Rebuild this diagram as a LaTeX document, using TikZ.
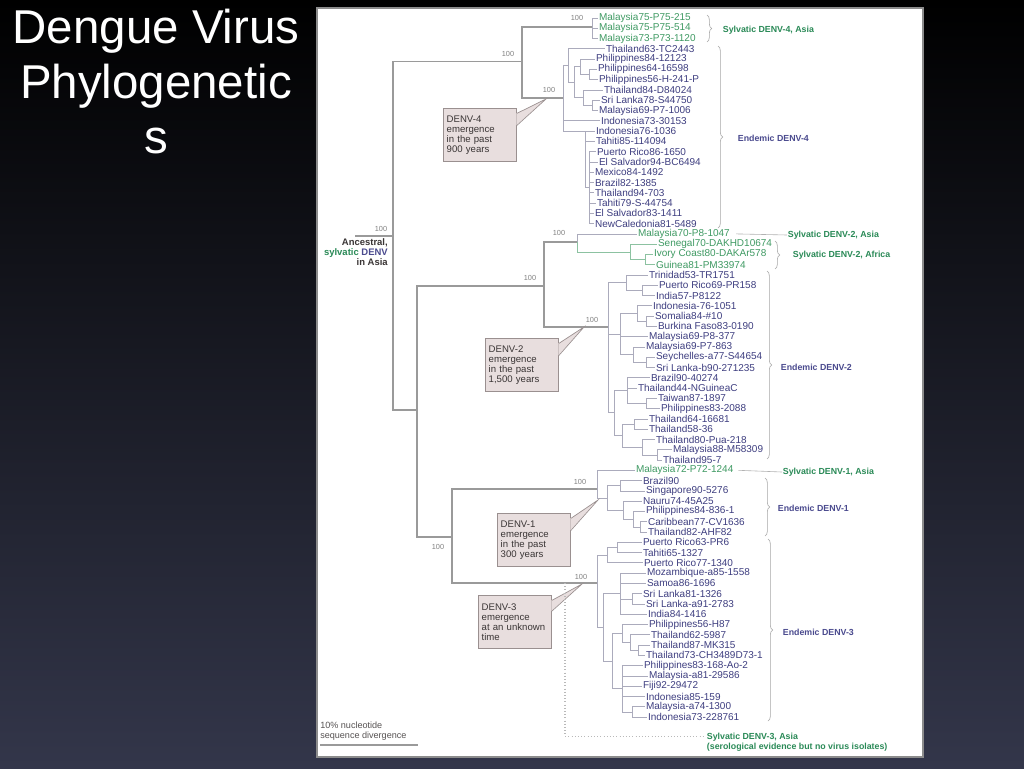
\documentclass[tikz,border=0pt]{standalone}
\usepackage{fontspec}
\setmainfont{Liberation Sans}
\usetikzlibrary{positioning, calc, decorations.pathreplacing}
\definecolor{slidetop}{HTML}{000000}
\definecolor{slidebot}{HTML}{33364A}
\definecolor{panelrim}{HTML}{8C8C8C}
\definecolor{branchgray}{HTML}{ABABBC}
\definecolor{stemgray}{HTML}{9A9A9A}
\definecolor{endleaf}{HTML}{3E3E80}
\definecolor{sylleaf}{HTML}{3F9A63}
\definecolor{sylgreen}{HTML}{2A8A57}
\definecolor{endblue}{HTML}{4A4A8E}
\definecolor{boxfill}{HTML}{E8DEDE}
\definecolor{boxrim}{HTML}{9A9090}
\definecolor{inktext}{HTML}{3A3535}

\begin{document}
\begin{tikzpicture}[x=0.75pt, y=-0.75pt,
  leaf/.style={anchor=west, inner sep=0.6pt, font=\fontsize{7.5}{8}\selectfont, text=endleaf},
  sleaf/.style={leaf, text=sylleaf},
  br/.style={branchgray, line width=0.6pt},
  sbr/.style={sylleaf!60, line width=0.6pt},
  stem/.style={stemgray, line width=1.1pt},
  boot/.style={font=\fontsize{5.5}{6}\selectfont, text=gray, inner sep=0pt},
  callout/.style={anchor=north west, fill=boxfill, draw=boxrim, line width=0.5pt,
                  text width=50pt, minimum height=40pt, inner xsep=2.5pt, inner ysep=2pt,
                  align=left, font=\fontsize{7.2}{7.6}\selectfont, text=inktext},
  grp/.style={anchor=west, inner sep=0.5pt, font=\bfseries\fontsize{6.6}{7.6}\selectfont, text=#1},
  brc/.style={draw=gray!70, line width=0.45pt, decorate, decoration={brace, amplitude=3.5pt}},
  tick/.style={gray!60, line width=0.45pt}
]
\useasboundingbox (0,0) rectangle (1024,768);

% Slide background and white panel
\shade[top color=slidetop, bottom color=slidebot] (0,0) rectangle (1024,768);
\draw[panelrim, fill=white, line width=1.5pt] (317,8) rectangle (923,757);

% Title
\node[font=\fontsize{35.6}{41.3}\selectfont, text=white, align=center, anchor=north, inner sep=0pt]
  (title) at (156,9) {Dengue Virus\\Phylogenetic\\s};

% Leaves: DENV-4
\node[sleaf] (l1) at (598,18) {Malaysia75-P75-215};
\node[sleaf] (l2) at (598,28.3) {Malaysia75-P75-514};
\node[sleaf] (l3) at (598,38.6) {Malaysia73-P73-1120};
\node[leaf] (l4) at (605,48.8) {Thailand63-TC2443};
\node[leaf] (l5) at (595,59.1) {Philippines84-12123};
\node[leaf] (l6) at (597,69.4) {Philippines64-16598};
\node[leaf] (l7) at (598,79.7) {Philippines56-H-241-P};
\node[leaf] (l8) at (603,90.0) {Thailand84-D84024};
\node[leaf] (l9) at (600,100.2) {Sri Lanka78-S44750};
\node[leaf] (l10) at (598,110.5) {Malaysia69-P7-1006};
\node[leaf] (l11) at (600,120.8) {Indonesia73-30153};
\node[leaf] (l12) at (595,131.1) {Indonesia76-1036};
\node[leaf] (l13) at (595,141.4) {Tahiti85-114094};
\node[leaf] (l14) at (596,151.6) {Puerto Rico86-1650};
\node[leaf] (l15) at (598,161.9) {El Salvador94-BC6494};
\node[leaf] (l16) at (594,172.2) {Mexico84-1492};
\node[leaf] (l17) at (594,182.5) {Brazil82-1385};
\node[leaf] (l18) at (594,192.8) {Thailand94-703};
\node[leaf] (l19) at (596,203.0) {Tahiti79-S-44754};
\node[leaf] (l20) at (594,213.3) {El Salvador83-1411};
\node[leaf] (l21) at (594,223.6) {NewCaledonia81-5489};

% Leaves: DENV-2
\node[sleaf] (l22) at (637,233.9) {Malaysia70-P8-1047};
\node[sleaf] (l23) at (657,244.2) {Senegal70-DAKHD10674};
\node[sleaf] (l24) at (653,254.4) {Ivory Coast80-DAKAr578};
\node[sleaf] (l25) at (655,264.7) {Guinea81-PM33974};
\node[leaf] (l26) at (648,275.0) {Trinidad53-TR1751};
\node[leaf] (l27) at (658,285.3) {Puerto Rico69-PR158};
\node[leaf] (l28) at (655,295.6) {India57-P8122};
\node[leaf] (l29) at (652,305.8) {Indonesia-76-1051};
\node[leaf] (l30) at (654,316.1) {Somalia84-\#10};
\node[leaf] (l31) at (657,326.4) {Burkina Faso83-0190};
\node[leaf] (l32) at (648,336.7) {Malaysia69-P8-377};
\node[leaf] (l33) at (645,347.0) {Malaysia69-P7-863};
\node[leaf] (l34) at (655,357.2) {Seychelles-a77-S44654};
\node[leaf] (l35) at (655,367.5) {Sri Lanka-b90-271235};
\node[leaf] (l36) at (650,377.8) {Brazil90-40274};
\node[leaf] (l37) at (637,388.1) {Thailand44-NGuineaC};
\node[leaf] (l38) at (657,398.4) {Taiwan87-1897};
\node[leaf] (l39) at (660,408.6) {Philippines83-2088};
\node[leaf] (l40) at (648,418.9) {Thailand64-16681};
\node[leaf] (l41) at (648,429.2) {Thailand58-36};
\node[leaf] (l42) at (655,439.5) {Thailand80-Pua-218};
\node[leaf] (l43) at (672,449.8) {Malaysia88-M58309};
\node[leaf] (l44) at (662,460.0) {Thailand95-7};

% Leaves: DENV-1
\node[sleaf] (l45) at (635,470.3) {Malaysia72-P72-1244};
\node[leaf] (l46) at (642,480.6) {Brazil90};
\node[leaf] (l47) at (645,490.9) {Singapore90-5276};
\node[leaf] (l48) at (642,501.2) {Nauru74-45A25};
\node[leaf] (l49) at (645,511.4) {Philippines84-836-1};
\node[leaf] (l50) at (647,521.7) {Caribbean77-CV1636};
\node[leaf] (l51) at (647,532.0) {Thailand82-AHF82};

% Leaves: DENV-3
\node[leaf] (l52) at (642,542.3) {Puerto Rico63-PR6};
\node[leaf] (l53) at (642,552.6) {Tahiti65-1327};
\node[leaf] (l54) at (643,562.8) {Puerto Rico77-1340};
\node[leaf] (l55) at (646,573.1) {Mozambique-a85-1558};
\node[leaf] (l56) at (646,583.4) {Samoa86-1696};
\node[leaf] (l57) at (642,593.7) {Sri Lanka81-1326};
\node[leaf] (l58) at (645,604.0) {Sri Lanka-a91-2783};
\node[leaf] (l59) at (647,614.2) {India84-1416};
\node[leaf] (l60) at (648,624.5) {Philippines56-H87};
\node[leaf] (l61) at (650,634.8) {Thailand62-5987};
\node[leaf] (l62) at (650,645.1) {Thailand87-MK315};
\node[leaf] (l63) at (645,655.4) {Thailand73-CH3489D73-1};
\node[leaf] (l64) at (643,665.6) {Philippines83-168-Ao-2};
\node[leaf] (l65) at (648,675.9) {Malaysia-a81-29586};
\node[leaf] (l66) at (642,686.2) {Fiji92-29472};
\node[leaf] (l67) at (645,696.5) {Indonesia85-159};
\node[leaf] (l68) at (645,706.8) {Malaysia-a74-1300};
\node[leaf] (l69) at (647,717.0) {Indonesia73-228761};

% Internal nodes
\coordinate (root) at (355,236);
\coordinate (a0) at (393,236);
\coordinate (d4) at (522,61.5);
\coordinate (s4) at (592,27);
\coordinate (e4) at (563,98);
\coordinate (e4a) at (568,65.5);
\coordinate (e4a1) at (574,82.3);
\coordinate (ph) at (580,66.8);
\coordinate (ph1) at (589,74.6);
\coordinate (sl) at (583,97.7);
\coordinate (sl1) at (592,105.4);
\coordinate (e4b) at (585,131);
\coordinate (e4b1) at (589,187.6);
\coordinate (b) at (417,410);
\coordinate (d2) at (544,286);
\coordinate (s2) at (577,242);
\coordinate (af) at (630,251.9);
\coordinate (af1) at (645,259.6);
\coordinate (e2) at (608,327);
\coordinate (c2a) at (626,282.7);
\coordinate (c2a1) at (642,290.5);
\coordinate (c2b) at (620,334);
\coordinate (c2b1) at (637,313.5);
\coordinate (c2b2) at (646,321.3);
\coordinate (c2b3) at (633,354.7);
\coordinate (c2b4) at (646,362.4);
\coordinate (c2c) at (614,412.8);
\coordinate (c2c1) at (627,390);
\coordinate (c2c1a) at (646,403.5);
\coordinate (c2c2) at (622,435.6);
\coordinate (c2c2a) at (634,424);
\coordinate (c2c2b) at (642,447.2);
\coordinate (c2c2b1) at (657,454.9);
\coordinate (d13) at (452,537);
\coordinate (d1) at (597,489);
\coordinate (e1) at (607,498);
\coordinate (e1a) at (620,485.8);
\coordinate (e1b) at (623,510.2);
\coordinate (e1b1) at (633,519.2);
\coordinate (e1b2) at (640,526.9);
\coordinate (d3) at (597,583);
\coordinate (s3) at (565,583);
\coordinate (g3a) at (607,555.2);
\coordinate (g3a1) at (617,547.5);
\coordinate (g3r) at (603,627);
\coordinate (g3b) at (620,593.7);
\coordinate (g3b1) at (632,598.9);
\coordinate (g3c) at (612,661);
\coordinate (g3c1) at (622,633.5);
\coordinate (g3c2) at (630,642.5);
\coordinate (g3c3) at (638,650.3);
\coordinate (g3c4) at (622,688.8);
\coordinate (g3c5) at (632,711.9);

% Backbone
\draw[stem] (root) -- (a0);
\draw[stem] (a0) |- (d4) (a0) |- (b);
\draw[stem] (d4) |- (s4) (d4) |- (e4);
\draw[stem] (b) |- (d2) (b) |- (d13);
\draw[stem] (d2) |- (s2) (d2) |- (e2);
\draw[stem] (d13) |- (d1) (d13) |- (d3);

% DENV-4 branches
\draw[br] (s4) |- (l1.west) (s4) |- (l2.west) (s4) |- (l3.west);
\draw[br] (e4) |- (e4a) (e4) |- (l11.west) (e4) |- (e4b);
\draw[br] (e4a) |- (l4.west) (e4a) |- (e4a1);
\draw[br] (e4a1) |- (ph) (e4a1) |- (sl);
\draw[br] (ph) |- (l5.west) (ph) |- (ph1);
\draw[br] (ph1) |- (l6.west) (ph1) |- (l7.west);
\draw[br] (sl) |- (l8.west) (sl) |- (sl1);
\draw[br] (sl1) |- (l9.west) (sl1) |- (l10.west);
\draw[br] (e4b) |- (l12.west) (e4b) |- (l13.west) (e4b) |- (e4b1);
\draw[br] (e4b1) |- (l14.west) (e4b1) |- (l15.west) (e4b1) |- (l16.west) (e4b1) |- (l17.west)
          (e4b1) |- (l18.west) (e4b1) |- (l19.west) (e4b1) |- (l20.west) (e4b1) |- (l21.west);

% DENV-2 branches
\draw[br] (s2) |- (l22.west);
\draw[sbr] (s2) |- (af);
\draw[sbr] (af) |- (l23.west) (af) |- (af1);
\draw[sbr] (af1) |- (l24.west) (af1) |- (l25.west);
\draw[br] (e2) |- (c2a) (e2) |- (c2b) (e2) |- (c2c);
\draw[br] (c2a) |- (l26.west) (c2a) |- (c2a1);
\draw[br] (c2a1) |- (l27.west) (c2a1) |- (l28.west);
\draw[br] (c2b) |- (c2b1) (c2b) |- (l32.west) (c2b) |- (c2b3);
\draw[br] (c2b1) |- (l29.west) (c2b1) |- (c2b2);
\draw[br] (c2b2) |- (l30.west) (c2b2) |- (l31.west);
\draw[br] (c2b3) |- (l33.west) (c2b3) |- (c2b4);
\draw[br] (c2b4) |- (l34.west) (c2b4) |- (l35.west);
\draw[br] (c2c) |- (c2c1) (c2c) |- (c2c2);
\draw[br] (c2c1) |- (l36.west) (c2c1) |- (l37.west) (c2c1) |- (c2c1a);
\draw[br] (c2c1a) |- (l38.west) (c2c1a) |- (l39.west);
\draw[br] (c2c2) |- (c2c2a) (c2c2) |- (c2c2b);
\draw[br] (c2c2a) |- (l40.west) (c2c2a) |- (l41.west);
\draw[br] (c2c2b) |- (l42.west) (c2c2b) |- (c2c2b1);
\draw[br] (c2c2b1) |- (l43.west) (c2c2b1) |- (l44.west);

% DENV-1 branches
\draw[br] (d1) |- (l45.west) (d1) |- (e1);
\draw[br] (e1) |- (e1a) (e1) |- (e1b);
\draw[br] (e1a) |- (l46.west) (e1a) |- (l47.west);
\draw[br] (e1b) |- (l48.west) (e1b) |- (e1b1);
\draw[br] (e1b1) |- (l49.west) (e1b1) |- (e1b2);
\draw[br] (e1b2) |- (l50.west) (e1b2) |- (l51.west);

% DENV-3 branches
\draw[br] (d3) |- (g3a) (d3) |- (g3r);
\draw[br] (g3a) |- (g3a1) (g3a) |- (l54.west);
\draw[br] (g3a1) |- (l52.west) (g3a1) |- (l53.west);
\draw[br] (g3r) |- (g3b) (g3r) |- (g3c);
\draw[br] (g3b) |- (l55.west) (g3b) |- (l56.west) (g3b) |- (g3b1) (g3b) |- (l59.west);
\draw[br] (g3b1) |- (l57.west) (g3b1) |- (l58.west);
\draw[br] (g3c) |- (g3c1) (g3c) |- (g3c4);
\draw[br] (g3c1) |- (l60.west) (g3c1) |- (g3c2);
\draw[br] (g3c2) |- (l61.west) (g3c2) |- (g3c3);
\draw[br] (g3c3) |- (l62.west) (g3c3) |- (l63.west);
\draw[br] (g3c4) |- (l64.west) (g3c4) |- (l65.west) (g3c4) |- (l66.west) (g3c4) |- (l67.west) (g3c4) |- (g3c5);
\draw[br] (g3c5) |- (l68.west) (g3c5) |- (l69.west);

% Bootstrap values
\node[boot] (bt0) at (381,229) {100};
\node[boot] (bt1) at (508,54) {100};
\node[boot] (bt2) at (549,90) {100};
\node[boot] (bt3) at (577,18) {100};
\node[boot] (bt4) at (559,233) {100};
\node[boot] (bt5) at (530,278) {100};
\node[boot] (bt6) at (592,320) {100};
\node[boot] (bt7) at (438,547) {100};
\node[boot] (bt8) at (580,482) {100};
\node[boot] (bt9) at (581,577) {100};

% Root label
\node[anchor=east, align=right, inner sep=0pt, font=\bfseries\fontsize{7.1}{7.6}\selectfont, text=inktext]
  (anc) at (388,252) {Ancestral,\\\textcolor{sylgreen}{sylvatic} \textcolor{endblue}{DENV}\\in Asia};

% Emergence callouts
\node[callout] (c4) at (443,108) {DENV-4\\emergence\\in the past\\900 years};
\node[callout] (c2) at (485,338) {DENV-2\\emergence\\in the past\\1,500 years};
\node[callout] (c1) at (497,513) {DENV-1\\emergence\\in the past\\300 years};
\node[callout] (c3) at (478,595) {DENV-3\\emergence\\at an unknown\\time};
\coordinate (t4) at (546,99);
\coordinate (t2) at (584,327);
\coordinate (t1) at (598,500);
\coordinate (t3) at (582,584);
\fill[boxfill] ([shift={(-0.5pt,-4pt)}]c4.north east) -- (t4) -- ([shift={(-0.5pt,-13pt)}]c4.north east) -- cycle;
\draw[boxrim, line width=0.5pt] ([yshift=-4pt]c4.north east) -- (t4) -- ([yshift=-13pt]c4.north east);
\fill[boxfill] ([shift={(-0.5pt,-4pt)}]c2.north east) -- (t2) -- ([shift={(-0.5pt,-13pt)}]c2.north east) -- cycle;
\draw[boxrim, line width=0.5pt] ([yshift=-4pt]c2.north east) -- (t2) -- ([yshift=-13pt]c2.north east);
\fill[boxfill] ([shift={(-0.5pt,-4pt)}]c1.north east) -- (t1) -- ([shift={(-0.5pt,-13pt)}]c1.north east) -- cycle;
\draw[boxrim, line width=0.5pt] ([yshift=-4pt]c1.north east) -- (t1) -- ([yshift=-13pt]c1.north east);
\fill[boxfill] ([shift={(-0.5pt,-4pt)}]c3.north east) -- (t3) -- ([shift={(-0.5pt,-12pt)}]c3.north east) -- cycle;
\draw[boxrim, line width=0.5pt] ([yshift=-4pt]c3.north east) -- (t3) -- ([yshift=-12pt]c3.north east);

% Group labels and braces
\node[grp=sylgreen] (lab4s) at (722,30) {Sylvatic DENV-4, Asia};
\node[grp=endblue] (lab4e) at (737,138) {Endemic DENV-4};
\node[grp=sylgreen] (lab2a) at (787,235) {Sylvatic DENV-2, Asia};
\node[grp=sylgreen] (lab2f) at (792,255) {Sylvatic DENV-2, Africa};
\node[grp=endblue] (lab2e) at (780,367) {Endemic DENV-2};
\node[grp=sylgreen] (lab1a) at (782,472) {Sylvatic DENV-1, Asia};
\node[grp=endblue] (lab1e) at (777,508) {Endemic DENV-1};
\node[grp=endblue] (lab3e) at (782,632) {Endemic DENV-3};
\node[grp=sylgreen, align=left] (lab3a) at (706,742) {Sylvatic DENV-3, Asia\\(serological evidence but no virus isolates)};
\draw[brc] (707,15) -- (707,42);
\draw[brc] (718,46) -- (718,228);
\draw[brc] (775,241) -- (775,269);
\draw[brc] (767,271) -- (767,459);
\draw[brc] (765,478) -- (765,536);
\draw[brc] (768,539) -- (768,721);
\draw[tick] ([xshift=4pt]l22.east) -- (lab2a.west);
\draw[tick] ([xshift=3pt]l45.east) -- (lab1a.west);
\draw[gray!55, line width=0.8pt, dash pattern=on 0.8pt off 1.6pt] (s3) |- ([shift={(-2pt,-3.4pt)}]lab3a.north west);

% Scale bar
\node[anchor=south west, align=left, inner sep=0pt, font=\fontsize{6.8}{7.6}\selectfont, text=inktext!85]
  (scl) at (320,741) {10\% nucleotide\\sequence divergence};
\draw[stem] ([yshift=-3pt]scl.south west) -- +(98,0);

\end{tikzpicture}
\end{document}
